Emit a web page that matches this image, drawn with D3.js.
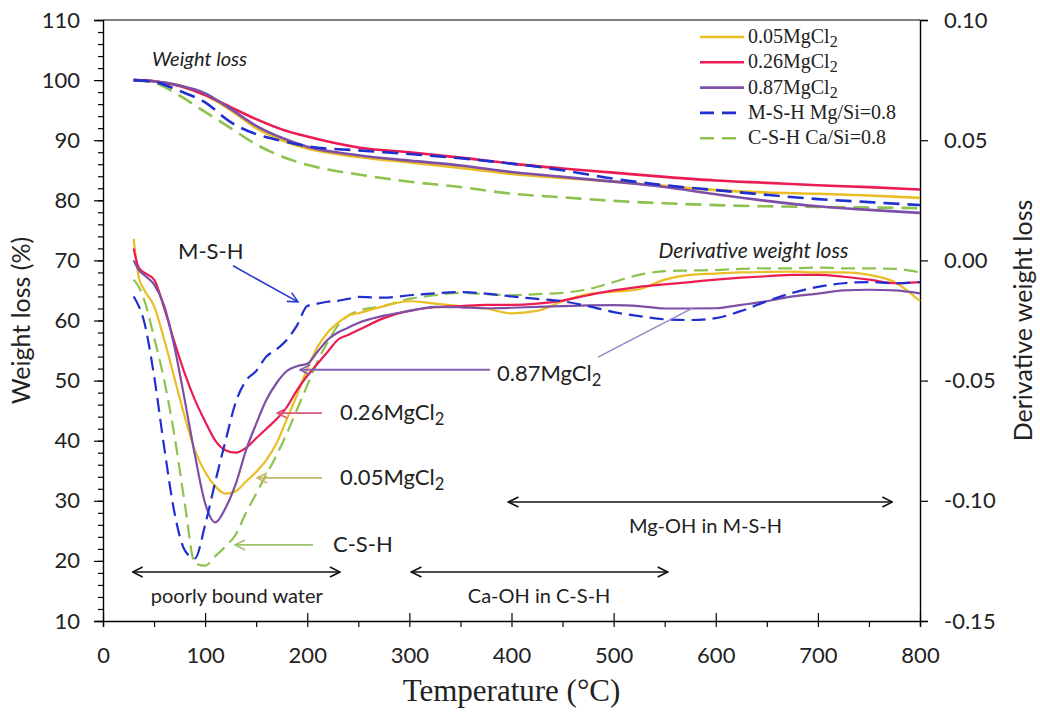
<!DOCTYPE html>
<html><head><meta charset="utf-8">
<script src="https://cdn.jsdelivr.net/npm/d3@7"></script>
<style>
html,body{margin:0;padding:0;background:#fff;}
svg{display:block;}
</style></head>
<body>
<svg id="chart" width="1040" height="718"></svg>
<script>
// ---------- DATA ----------
const seriesNames = ["0.05MgCl2","0.26MgCl2","0.87MgCl2","M-S-H Mg/Si=0.8","C-S-H Ca/Si=0.8"];
const legendMain = ["0.05MgCl","0.26MgCl","0.87MgCl","M-S-H Mg/Si=0.8","C-S-H Ca/Si=0.8"];
const legendSub  = ["2","2","2","",""];

// Weight loss (%) — left axis
const tgT = [30,50,75,100,125,150,175,200,250,300,350,400,450,500,550,600,650,700,750,800];
const tg005 = [100,99.8,99.1,97.5,95.0,92.0,90.0,88.6,87.2,86.3,85.4,84.4,83.7,83.1,82.4,81.7,81.3,81.1,80.8,80.4];
const tg026 = [100,99.8,99.0,97.5,95.5,93.5,91.8,90.6,88.8,88.0,87.1,86.1,85.3,84.6,83.9,83.3,82.9,82.5,82.2,81.8];
const tg087 = [100,99.8,99.1,97.8,95.2,92.4,90.4,88.9,87.5,86.6,85.8,84.7,83.9,83.1,82.2,81.0,79.9,79.0,78.4,77.9];
const tgMSH = [100,99.7,98.2,96.3,93.0,91.0,89.9,89.0,88.3,87.7,87.0,86.1,85.0,83.6,82.5,81.7,80.9,80.2,79.7,79.2];
const tgCSH = [100,99.6,97.4,94.7,92.0,89.3,87.3,85.9,84.3,83.1,82.2,81.1,80.5,79.9,79.5,79.2,79.0,78.9,78.8,78.7];

// Derivative weight loss — right axis
const dtgT = [30,35,40,50,60,70,80,90,100,110,120,130,140,150,160,170,180,190,200,210,220,230,240,250,
              275,300,325,350,375,400,425,450,475,500,525,550,575,600,625,650,675,700,725,750,775,800];
const dtg005 = [0.009,-0.007,-0.012,-0.019,-0.033,-0.049,-0.065,-0.079,-0.088,-0.094,-0.097,-0.096,-0.092,-0.088,-0.083,-0.076,-0.066,-0.056,-0.045,-0.036,-0.030,-0.026,-0.023,-0.022,
              -0.019,-0.017,-0.018,-0.019,-0.020,-0.022,-0.021,-0.017,-0.014,-0.013,-0.012,-0.008,-0.006,-0.0055,-0.005,-0.0048,-0.0047,-0.005,-0.005,-0.006,-0.009,-0.017];
const dtg026 = [0.005,-0.003,-0.005,-0.008,-0.020,-0.034,-0.047,-0.058,-0.067,-0.075,-0.079,-0.080,-0.078,-0.074,-0.070,-0.066,-0.061,-0.054,-0.048,-0.043,-0.038,-0.033,-0.031,-0.029,
              -0.024,-0.021,-0.0195,-0.019,-0.0185,-0.0185,-0.018,-0.0167,-0.0145,-0.0125,-0.011,-0.010,-0.009,-0.008,-0.0072,-0.0066,-0.006,-0.006,-0.0068,-0.008,-0.0095,-0.009];
const dtg087 = [0.000,-0.004,-0.006,-0.010,-0.019,-0.036,-0.058,-0.081,-0.101,-0.109,-0.103,-0.093,-0.079,-0.068,-0.058,-0.051,-0.046,-0.044,-0.043,-0.038,-0.033,-0.030,-0.028,-0.026,
              -0.023,-0.021,-0.0193,-0.0195,-0.0199,-0.0197,-0.0193,-0.019,-0.0187,-0.0186,-0.019,-0.020,-0.020,-0.0199,-0.0185,-0.017,-0.015,-0.0138,-0.0125,-0.0122,-0.0125,-0.0137];
const dtgMSH = [-0.015,-0.019,-0.025,-0.048,-0.078,-0.105,-0.1205,-0.124,-0.110,-0.092,-0.075,-0.059,-0.050,-0.046,-0.040,-0.037,-0.033,-0.027,-0.019,-0.018,-0.0172,-0.0168,-0.016,-0.0152,
              -0.0155,-0.0145,-0.0137,-0.0132,-0.0138,-0.015,-0.016,-0.017,-0.019,-0.0215,-0.0232,-0.0245,-0.0248,-0.024,-0.021,-0.017,-0.0135,-0.011,-0.0095,-0.009,-0.0095,-0.009];
const dtgCSH = [-0.008,-0.011,-0.016,-0.032,-0.050,-0.073,-0.101,-0.126,-0.127,-0.123,-0.119,-0.114,-0.105,-0.097,-0.089,-0.081,-0.072,-0.062,-0.052,-0.042,-0.034,-0.027,-0.023,-0.021,
              -0.019,-0.016,-0.0145,-0.0135,-0.014,-0.0145,-0.014,-0.0135,-0.012,-0.009,-0.006,-0.0045,-0.0042,-0.004,-0.0035,-0.0033,-0.0033,-0.003,-0.0033,-0.0033,-0.0035,-0.005];

// Axis ticks
const xTicks = [0,100,200,300,400,500,600,700,800];
const yLeftTicks = [10,20,30,40,50,60,70,80,90,100,110];
const yRightTicks = [-0.15,-0.10,-0.05,0.00,0.05,0.10];
const yRightLabels = ["-0.15","-0.10","-0.05","0.00","0.05","0.10"];

// ---------- STYLE ----------
const colors = ["#EBBD24","#EC1B52","#7D4FA6","#1F2FD0","#8DC24E"];
const dashed = [false,false,false,true,true];
const SANS = "Lato, 'Open Sans', sans-serif";
const SERIF = "'Liberation Serif', 'DejaVu Serif', serif";

const svg = d3.select("#chart");
const M = {left:103, top:20, right:120, bottom:97};
const W = 1040 - M.left - M.right, H = 718 - M.top - M.bottom;

const x = d3.scaleLinear().domain([0,800]).range([M.left, M.left+W]);
const yL = d3.scaleLinear().domain([10,110]).range([M.top+H, M.top]);
const yR = d3.scaleLinear().domain([-0.15,0.10]).range([M.top+H, M.top]);

// ---------- AXES ----------
const gLm = svg.append("g").attr("transform",`translate(${M.left},0)`)
  .call(d3.axisLeft(yL).tickValues(d3.range(10,111,2)).tickSize(5).tickFormat(""));
gLm.select(".domain").remove();
const gL = svg.append("g").attr("transform",`translate(${M.left},0)`)
  .call(d3.axisLeft(yL).tickValues(yLeftTicks).tickSize(9).tickPadding(14).tickFormat(d3.format("d")));
gL.selectAll("text").attr("font-family",SANS).attr("font-size",22).attr("fill","#222");

const gR = svg.append("g").attr("transform",`translate(${M.left+W},0)`)
  .call(d3.axisRight(yR).tickValues(yRightTicks).tickSize(8).tickPadding(16)
    .tickFormat((d,i)=>yRightLabels[i]));
gR.selectAll("text").attr("font-family",SANS).attr("font-size",22).attr("fill","#222");

const gBm = svg.append("g").attr("transform",`translate(0,${M.top+H})`)
  .call(d3.axisBottom(x).tickValues(d3.range(50,800,100)).tickSize(6).tickFormat(""));
gBm.select(".domain").remove();
const gB = svg.append("g").attr("transform",`translate(0,${M.top+H})`)
  .call(d3.axisBottom(x).tickValues(xTicks).tickSize(6).tickPadding(20).tickFormat(d3.format("d")));
gB.selectAll("text").attr("font-family",SANS).attr("font-size",22).attr("fill","#222");
gB.selectAll(".tick").append("line").attr("y1",0).attr("y2",-8).attr("stroke","currentColor");

svg.append("line").attr("x1",M.left).attr("x2",M.left+W).attr("y1",M.top).attr("y2",M.top)
  .attr("stroke","#000").attr("stroke-width",1.2);
svg.selectAll(".domain").attr("stroke","#000").attr("stroke-width",1.4);
svg.selectAll(".tick line").attr("stroke","#000").attr("stroke-width",1.2);

// axis titles
svg.append("text").attr("transform",`translate(30,${M.top+H/2}) rotate(-90)`)
  .attr("text-anchor","middle").attr("font-family",SANS).attr("font-size",25).attr("fill","#222")
  .text("Weight loss (%)");
svg.append("text").attr("transform",`translate(1032,${M.top+H/2}) rotate(-90)`)
  .attr("text-anchor","middle").attr("font-family",SANS).attr("font-size",25).attr("fill","#222")
  .text("Derivative weight loss");
svg.append("text").attr("x",M.left+W/2).attr("y",701)
  .attr("text-anchor","middle").attr("font-family",SERIF).attr("font-size",31).attr("fill","#222")
  .text("Temperature (°C)");

// ---------- LINES ----------
const tgSets = [tg005,tg026,tg087,tgMSH,tgCSH];
const dtgSets = [dtg005,dtg026,dtg087,dtgMSH,dtgCSH];
const lineTG = d3.line().x(d=>x(d[0])).y(d=>yL(d[1])).curve(d3.curveMonotoneX);
const lineDTG = d3.line().x(d=>x(d[0])).y(d=>yR(d[1])).curve(d3.curveMonotoneX);

const gLines = svg.append("g");
[4,0,1,2,3].forEach(i=>{
  gLines.append("path").datum(tgT.map((t,k)=>[t,tgSets[i][k]]))
    .attr("d",lineTG).attr("fill","none").attr("stroke",colors[i]).attr("stroke-width",2.6)
    .attr("stroke-dasharray",dashed[i]?"16,8":null);
});
[4,0,1,2,3].forEach(i=>{
  gLines.append("path").datum(dtgT.map((t,k)=>[t,dtgSets[i][k]]))
    .attr("d",lineDTG).attr("fill","none").attr("stroke",colors[i]).attr("stroke-width",2.2)
    .attr("stroke-dasharray",dashed[i]?"14,7":null);
});

// ---------- LEGEND ----------
const lg = svg.append("g");
legendMain.forEach((t,i)=>{
  const yy = 37 + i*25.3;
  lg.append("line").attr("x1",700).attr("x2",744).attr("y1",yy).attr("y2",yy)
    .attr("stroke",colors[i]).attr("stroke-width",2.6).attr("stroke-dasharray",dashed[i]?"14,8":null);
  const tx = lg.append("text").attr("x",748).attr("y",yy+6).attr("font-family",SERIF)
    .attr("font-size",20).attr("fill","#222").text(t);
  if(legendSub[i]) tx.append("tspan").attr("font-size",16).attr("dy",4).text(legendSub[i]);
});

// ---------- ANNOTATIONS ----------
const defs = svg.append("defs");
function marker(id,color){
  defs.append("marker").attr("id",id).attr("viewBox","0 0 12 12").attr("refX",11).attr("refY",6)
    .attr("markerWidth",12).attr("markerHeight",12).attr("markerUnits","userSpaceOnUse").attr("orient","auto-start-reverse")
    .append("path").attr("d","M1,1 L11,6 L1,11").attr("fill","none").attr("stroke",color).attr("stroke-width",1.6);
}
const annColors = {msh:"#2B3BD0", p087:"#8262B2", p087b:"#9C86C8", r026:"#D9577A", y005:"#C9B466", csh:"#9CC46A", blk:"#111"};
Object.entries(annColors).forEach(([k,c])=>marker("m_"+k,c));

const arrows = [
  [127.3,69.1,190.9,63.1,"msh",true,false,1.6],
  [379,51.8,192.9,51.8,"p087",true,false,2],
  [484.7,53.9,577.7,62.1,"p087b",false,false,1.6],
  [214.4,44.6,170.4,44.6,"r026",true,false,1.8],
  [214.4,33.8,150.8,33.8,"y005",true,false,1.8],
  [205.6,22.65,129.3,22.65,"csh",true,false,1.8],
  [29,18.15,232,18.15,"blk",true,true,1.5],
  [302,18.15,553,18.15,"blk",true,true,1.5],
  [397,29.8,773,29.8,"blk",true,true,1.5]
];
arrows.forEach(a=>{
  svg.append("line").attr("x1",x(a[0])).attr("y1",yL(a[1])).attr("x2",x(a[2])).attr("y2",yL(a[3]))
    .attr("stroke",annColors[a[4]]).attr("stroke-width",a[7])
    .attr("marker-end",a[5]?`url(#m_${a[4]})`:null)
    .attr("marker-start",a[6]?`url(#m_${a[4]})`:null);
});

const labels = [
  ["M-S-H","",73.4,70.2,"start",false,22],
  ["0.87MgCl","2",385.8,49.9,"start",false,22],
  ["0.26MgCl","2",232,43.4,"start",false,22],
  ["0.05MgCl","2",232,32.6,"start",false,22],
  ["C-S-H","",225.2,21.5,"start",false,22],
  ["poorly bound water","",131,13.0,"middle",false,20],
  ["Ca-OH in C-S-H","",427,13.0,"middle",false,20],
  ["Mg-OH in M-S-H","",590,24.6,"middle",false,20],
  ["Weight loss","",48,102.4,"start",true,20],
  ["Derivative weight loss","",544,70.4,"start",true,21]
];
labels.forEach(l=>{
  const t = svg.append("text").attr("x",x(l[2])).attr("y",yL(l[3])).attr("text-anchor",l[4])
    .attr("font-family",SANS).attr("font-size",l[6]).attr("fill","#222")
    .attr("font-style",l[5]?"italic":null).text(l[0]);
  if(l[1]) t.append("tspan").attr("font-size",l[6]*0.75).attr("dy",5).text(l[1]);
});
</script>
</body></html>
